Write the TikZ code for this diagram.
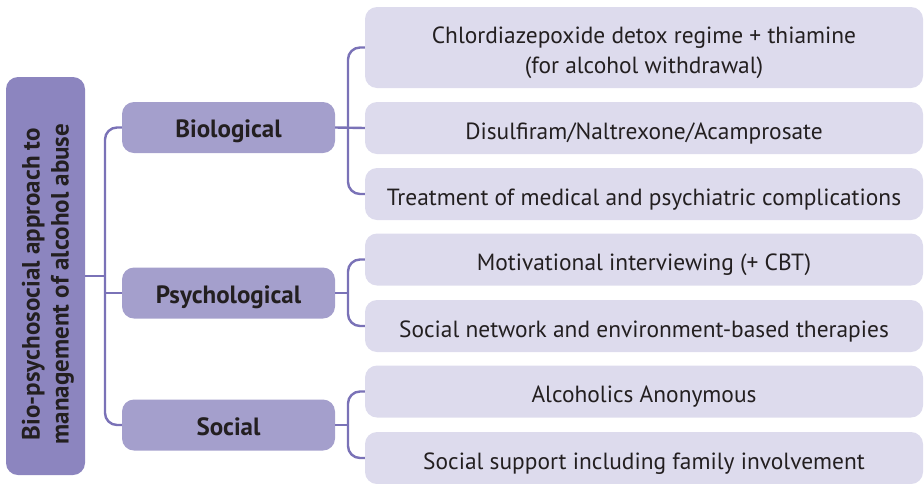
\documentclass[tikz,border=0pt]{standalone}
\usepackage{fontspec}
\setmainfont{PT Sans}
\definecolor{rootc}{HTML}{8C85BF}
\definecolor{catc}{HTML}{A49FCC}
\definecolor{itemc}{HTML}{DDDBED}
\definecolor{linec}{HTML}{7A72B7}
\definecolor{txt}{HTML}{231F20}
\tikzset{
  rootbox/.style={fill=rootc, rounded corners=12pt, minimum width=79pt, minimum height=398pt, inner sep=0pt},
  roottxt/.style={rotate=90, text=txt, align=center, inner sep=0pt, font=\fontsize{25}{29}\selectfont\bfseries},
  catbox/.style={fill=catc, rounded corners=12pt, minimum width=213pt, minimum height=51pt, inner sep=0pt, text=txt, text height=20pt, text depth=0pt, font=\fontsize{25}{28}\selectfont\bfseries},
  itemfont/.style={text=txt, font=\fontsize{23.4}{30}\selectfont},
  itembox/.style={fill=itemc, rounded corners=12pt, minimum width=558pt, minimum height=52pt, inner sep=0pt, text height=22pt, text depth=0pt, itemfont},
  conn/.style={draw=linec, line width=2.4pt, rounded corners=12pt}
}
\begin{document}
\begin{tikzpicture}[x=1pt,y=-1pt]
\useasboundingbox (0,0) rectangle (924,483);
\clip (0,0) rectangle (924,483);
\node[rootbox] (root) at (45.5,276) {};
\node[roottxt] (roottext) at (48,284) {Bio-psychosocial approach to\\management of alcohol abuse};
\node[catbox] (bio) at (228.5,127.5) {Biological};
\node[catbox] (psy) at (228.5,293) {Psychological};
\node[catbox] (soc) at (228.5,425) {Social};
\node[itembox, minimum height=81pt,
  label={[name=r1t, itemfont, align=center, inner sep=0pt, yshift=-5pt]center:Chlordiazepoxide detox regime + thiamine\\(for alcohol withdrawal)}] (r1) at (644,47.5) {};
\node[itembox] (r2) at (644,128) {Disulfiram/Naltrexone/Acamprosate};
\node[itembox] (r3) at (644,194) {Treatment of medical and psychiatric complications};
\node[itembox] (r4) at (644,259.5) {Motivational interviewing (+ CBT)};
\node[itembox] (r5) at (644,326) {Social network and environment-based therapies};
\node[itembox] (r6) at (644,391.5) {Alcoholics Anonymous};
\node[itembox] (r7) at (644,458) {Social support including family involvement};
\coordinate (tx) at (105,0);
\coordinate (rx) at (348,0);
\draw[conn] (root.east) -- (root.east -| tx);
\draw[conn] (bio.west) -- (bio.west -| tx) |- (soc.west);
\draw[conn] (psy.west) -- (psy.west -| tx);
\draw[conn] (bio.east) -- (r2.west);
\draw[conn] (r1.west) -- (r1.west -| rx) |- (r3.west);
\draw[conn] (psy.east) -- (psy.east -| rx);
\draw[conn] (r4.west) -- (r4.west -| rx) |- (r5.west);
\draw[conn] (soc.east) -- (soc.east -| rx);
\draw[conn] (r6.west) -- (r6.west -| rx) |- (r7.west);
\end{tikzpicture}
\end{document}
